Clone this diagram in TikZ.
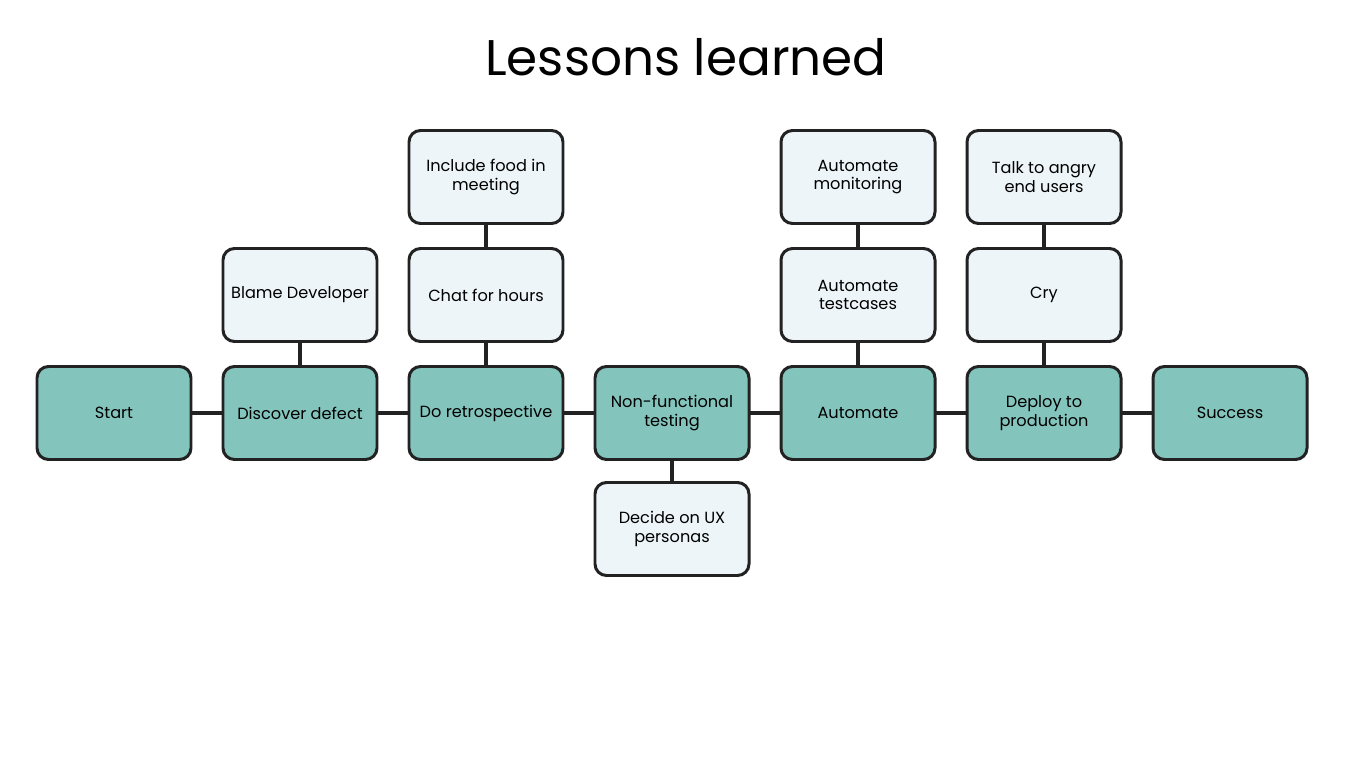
\documentclass[tikz,border=0pt]{standalone}
\usepackage{fontspec}
\setmainfont{Poppins}
\usetikzlibrary{positioning}

\definecolor{stepteal}{HTML}{83C4BC}
\definecolor{steplight}{HTML}{EDF5F8}
\definecolor{stepline}{HTML}{222222}

\begin{document}
\begin{tikzpicture}[
  box/.style={draw=stepline, line width=1.7pt, rounded corners=6.5pt,
    outer sep=0pt, inner sep=2pt,
    minimum width=3.08cm, minimum height=1.86cm,
    align=center, font=\fontsize{9.2}{10.6}\selectfont},
  mainbox/.style={box, fill=stepteal},
  sidebox/.style={box, fill=steplight},
  link/.style={draw=stepline, line width=2pt},
  node distance=0.64cm and 0.64cm]
\useasboundingbox (0,0) rectangle (27.44,-15.42);

\node[font=\fontsize{28.5}{32}\selectfont] (title) at (13.72,-1.14) {Lessons learned};

% main row
\node[mainbox] (start) at (2.28,-8.26) {Start};
\node[mainbox, right=of start] (discover) {Discover defect};
\node[mainbox, right=of discover] (retro) {Do retrospective};
\node[mainbox, right=of retro] (nonfunc) {Non-functional\\testing};
\node[mainbox, right=of nonfunc] (automate) {Automate};
\node[mainbox, right=of automate] (deploy) {Deploy to\\production};
\node[mainbox, right=of deploy] (success) {Success};

% side branches
\begin{scope}[node distance=0.5cm]
\node[sidebox, above=of discover] (blame) {Blame Developer};
\node[sidebox, above=of retro] (chat) {Chat for hours};
\node[sidebox, above=of chat] (food) {Include food in\\meeting};
\node[sidebox, below=0.46cm of nonfunc] (personas) {Decide on UX\\personas};
\node[sidebox, above=of automate] (autotest) {Automate\\testcases};
\node[sidebox, above=of autotest] (automon) {Automate\\monitoring};
\node[sidebox, above=of deploy] (cry) {Cry};
\node[sidebox, above=of cry] (angry) {Talk to angry\\end users};
\end{scope}

% connectors
\foreach \a/\b in {start/discover, discover/retro, retro/nonfunc,
    nonfunc/automate, automate/deploy, deploy/success}
  \path[link] (\a) -- (\b);
\foreach \a/\b in {discover/blame, retro/chat, chat/food, nonfunc/personas,
    automate/autotest, autotest/automon, deploy/cry, cry/angry}
  \path[link] (\a) -- (\b);
\end{tikzpicture}
\end{document}
